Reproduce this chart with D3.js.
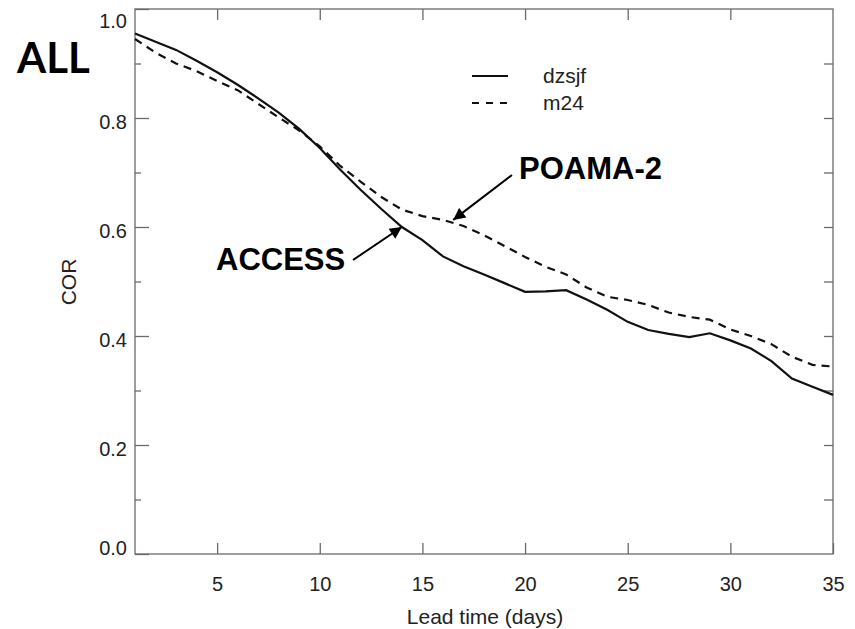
<!DOCTYPE html>
<html>
<head>
<meta charset="utf-8">
<script src="https://cdn.jsdelivr.net/npm/d3@7"></script>
<style>
  body { margin: 0; background: #fff; }
  svg { display: block; }
  .axis path, .axis line { stroke: #6a6a6a; stroke-width: 1.3; }
  .axis text { font-family: "Liberation Sans", Arial, sans-serif; font-size: 20px; fill: #222; }
</style>
</head>
<body>
<svg id="canvas" width="855" height="629"></svg>
<script>
// lead time (days) and correlation for each system
let days = d3.range(1, 36)
let dzsjf = [0.955, 0.940, 0.925, 0.905, 0.884, 0.861, 0.836, 0.810, 0.780, 0.745,
             0.705, 0.668, 0.633, 0.600, 0.576, 0.546, 0.528, 0.513, 0.497, 0.481,
             0.482, 0.484, 0.467, 0.448, 0.426, 0.411, 0.404, 0.398, 0.405, 0.392,
             0.377, 0.354, 0.322, 0.307, 0.292]
let m24 = [0.945, 0.920, 0.900, 0.886, 0.868, 0.851, 0.826, 0.801, 0.777, 0.748,
           0.712, 0.683, 0.655, 0.632, 0.620, 0.613, 0.602, 0.585, 0.565, 0.545,
           0.527, 0.513, 0.489, 0.472, 0.466, 0.457, 0.443, 0.435, 0.430, 0.412,
           0.400, 0.385, 0.362, 0.347, 0.344]

let xTicks = [5, 10, 15, 20, 25, 30, 35]
let yTicks = [0, 0.2, 0.4, 0.6, 0.8, 1.0]
let yMinor = [0.1, 0.3, 0.5, 0.7, 0.9]
let legendNames = ['dzsjf', 'm24']

let canvas = d3.select('#canvas')

let plotLeft = 135, plotRight = 833, plotTop = 9, plotBottom = 554

let xScale = d3.scaleLinear().domain([1, 35]).range([plotLeft, plotRight])
let yScale = d3.scaleLinear().domain([0, 1]).range([plotBottom, plotTop])

// frame
canvas.append('rect')
    .attr('x', plotLeft).attr('y', plotTop)
    .attr('width', plotRight - plotLeft).attr('height', plotBottom - plotTop)
    .attr('fill', 'none').attr('stroke', '#6a6a6a').attr('stroke-width', 1.3)

// bottom axis
let xAxis = canvas.append('g')
    .attr('class', 'axis')
    .attr('transform', 'translate(0,' + plotBottom + ')')
    .call(d3.axisBottom(xScale).tickValues(xTicks).tickSize(-11).tickPadding(23).tickFormat(d3.format('d')))
xAxis.select('.domain').remove()

// top ticks
let topAxis = canvas.append('g')
    .attr('class', 'axis')
    .attr('transform', 'translate(0,' + plotTop + ')')
    .call(d3.axisTop(xScale).tickValues(xTicks.slice(0, -1)).tickSize(-11).tickFormat(''))
topAxis.select('.domain').remove()

// left axis, major and minor ticks
let yAxis = canvas.append('g')
    .attr('class', 'axis')
    .attr('transform', 'translate(' + plotLeft + ',0)')
    .call(d3.axisLeft(yScale).tickValues(yTicks).tickSize(-14).tickPadding(8).tickFormat(d3.format('.1f')))
yAxis.select('.domain').remove()
yAxis.selectAll('text')
    .attr('dy', (d) => {
        if (d === 1) return '0.9em'
        if (d === 0) return '0em'
        return '0.5em'
    })

let yAxisMinor = canvas.append('g')
    .attr('class', 'axis')
    .attr('transform', 'translate(' + plotLeft + ',0)')
    .call(d3.axisLeft(yScale).tickValues(yMinor).tickSize(-6).tickFormat(''))
yAxisMinor.select('.domain').remove()

// right ticks
let rightAxis = canvas.append('g')
    .attr('class', 'axis')
    .attr('transform', 'translate(' + plotRight + ',0)')
    .call(d3.axisRight(yScale).tickValues(d3.range(1, 10).map((i) => i / 10)).tickSize(-9).tickFormat(''))
rightAxis.select('.domain').remove()

// axis titles
canvas.append('text')
    .attr('x', (plotLeft + plotRight) / 2 + 1)
    .attr('y', 624)
    .attr('text-anchor', 'middle')
    .style('font-family', '"Liberation Sans", Arial, sans-serif')
    .style('font-size', '21px')
    .attr('fill', '#222')
    .text('Lead time (days)')

canvas.append('text')
    .attr('transform', 'translate(76,282) rotate(-90)')
    .attr('text-anchor', 'middle')
    .style('font-family', '"Liberation Sans", Arial, sans-serif')
    .style('font-size', '21px')
    .attr('fill', '#222')
    .text('COR')

// lines
let line = d3.line()
    .x((d, i) => xScale(days[i]))
    .y((d) => yScale(d))

canvas.append('path')
    .datum(dzsjf)
    .attr('d', line)
    .attr('fill', 'none')
    .attr('stroke', '#111')
    .attr('stroke-width', 2.2)

canvas.append('path')
    .datum(m24)
    .attr('d', line)
    .attr('fill', 'none')
    .attr('stroke', '#111')
    .attr('stroke-width', 2.2)
    .attr('stroke-dasharray', '8,6')

// legend
let legend = canvas.append('g')
legendNames.forEach((name, i) => {
    let ly = 76 + i * 27
    legend.append('line')
        .attr('x1', 472).attr('x2', 508)
        .attr('y1', ly).attr('y2', ly)
        .attr('stroke', '#111')
        .attr('stroke-width', 2.2)
        .attr('stroke-dasharray', i === 0 ? null : '7,7')
    legend.append('text')
        .attr('x', 543).attr('y', ly)
        .attr('dy', '0.35em')
        .style('font-family', '"Liberation Sans", Arial, sans-serif')
        .style('font-size', '21px')
        .attr('fill', '#222')
        .text(name)
})

// annotations
let defs = canvas.append('defs')
defs.append('marker')
    .attr('id', 'arrow')
    .attr('viewBox', '0 0 10 10')
    .attr('refX', 10).attr('refY', 5)
    .attr('markerWidth', 7).attr('markerHeight', 6)
    .attr('markerUnits', 'strokeWidth')
    .attr('orient', 'auto')
    .append('path')
    .attr('d', 'M0,0 L10,5 L0,10 Z')
    .attr('fill', '#000')

canvas.append('line')
    .attr('x1', 512).attr('y1', 175)
    .attr('x2', xScale(16.5)).attr('y2', yScale(0.613))
    .attr('stroke', '#000').attr('stroke-width', 2)
    .attr('marker-end', 'url(#arrow)')

canvas.append('line')
    .attr('x1', 353).attr('y1', 260)
    .attr('x2', xScale(14)).attr('y2', yScale(0.6))
    .attr('stroke', '#000').attr('stroke-width', 2)
    .attr('marker-end', 'url(#arrow)')

let bold = (x, y, size, family, label) => {
    canvas.append('text')
        .attr('x', x).attr('y', y)
        .style('font-family', family)
        .style('font-size', size + 'px')
        .style('font-weight', 'bold')
        .attr('fill', '#000')
        .text(label)
}
bold(519, 179, 31, '"Liberation Sans", Arial, sans-serif', 'POAMA-2')
bold(216, 270, 31, '"Liberation Sans", Arial, sans-serif', 'ACCESS')
bold(17, 73, 42, 'Lato, "Open Sans", sans-serif', 'ALL')
</script>
</body>
</html>
